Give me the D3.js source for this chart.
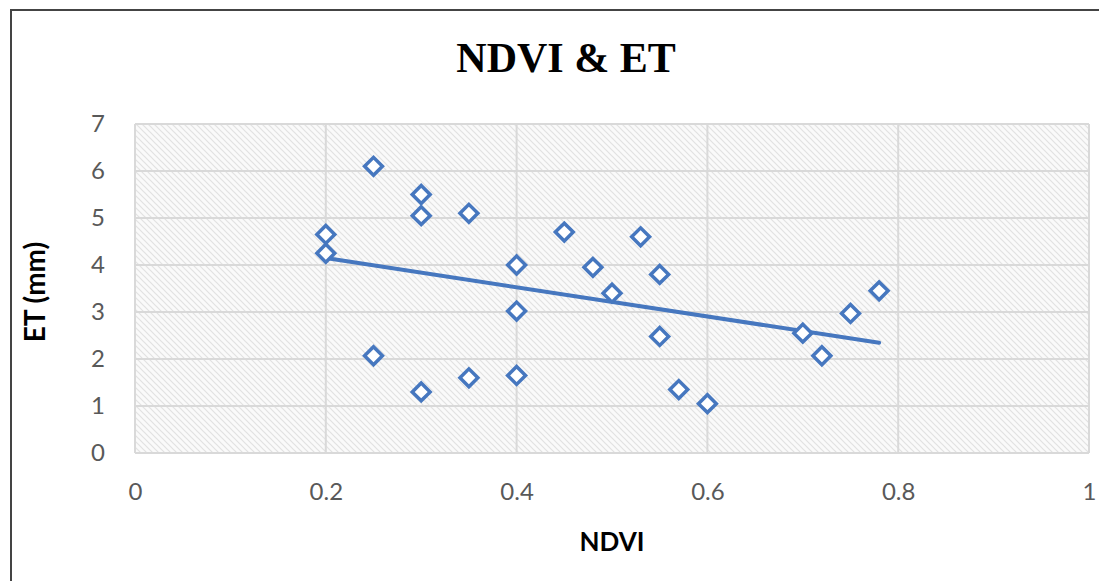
<!DOCTYPE html>
<html>
<head>
<meta charset="utf-8">
<script src="https://cdn.jsdelivr.net/npm/d3@7"></script>
<style>
  html, body { margin: 0; padding: 0; background: #fff; }
  svg { display: block; }
</style>
</head>
<body>
<svg id="chart" width="1099" height="581"></svg>
<script>
// NDVI vs. evapotranspiration samples
const ndvi = [0.20, 0.20, 0.25, 0.25, 0.30, 0.30, 0.30, 0.35, 0.35, 0.40, 0.40, 0.40,
              0.45, 0.48, 0.50, 0.53, 0.55, 0.55, 0.57, 0.60, 0.70, 0.72, 0.75, 0.78];
const et   = [4.65, 4.25, 6.10, 2.07, 5.50, 5.05, 1.30, 5.10, 1.60, 4.00, 3.02, 1.65,
              4.70, 3.95, 3.40, 4.60, 3.80, 2.48, 1.35, 1.05, 2.55, 2.07, 2.97, 3.45];
const xTicks = [0, 0.2, 0.4, 0.6, 0.8, 1];
const yTicks = [0, 1, 2, 3, 4, 5, 6, 7];
const titleText = "NDVI & ET";
const xTitle = "NDVI";
const yTitle = "ET (mm)";

const svg = d3.select("#chart");
const blue = "#4677BF";
const gridColor = "#d9d9d9";
const tickFont = "Lato, 'Liberation Sans', sans-serif";

// outer chart frame
svg.append("rect")
  .attr("x", 11).attr("y", 10).attr("width", 1200).attr("height", 700)
  .attr("fill", "#fff").attr("stroke", "#444").attr("stroke-width", 2);

// hatch fill for the plot area
const defs = svg.append("defs");
const pat = defs.append("pattern")
  .attr("id", "hatch").attr("patternUnits", "userSpaceOnUse")
  .attr("width", 6).attr("height", 6);
pat.append("rect").attr("width", 6).attr("height", 6).attr("fill", "#fafafa");
pat.append("path").attr("d", "M-1,-1 L7,7 M-1,5 L1,7 M5,-1 L7,1")
  .attr("stroke", "#e2e2e2").attr("stroke-width", 1.2);

const x = d3.scaleLinear().domain([0, 1]).range([135, 1089]);
const y = d3.scaleLinear().domain([0, 7]).range([453, 124]);

svg.append("rect")
  .attr("x", x(0)).attr("y", y(7))
  .attr("width", x(1) - x(0)).attr("height", y(0) - y(7))
  .attr("fill", "url(#hatch)");

// gridlines
svg.append("g").selectAll("line").data(yTicks).join("line")
  .attr("x1", x(0)).attr("x2", x(1))
  .attr("y1", d => y(d)).attr("y2", d => y(d))
  .attr("stroke", gridColor).attr("stroke-width", 2);
svg.append("g").selectAll("line").data(xTicks).join("line")
  .attr("x1", d => x(d)).attr("x2", d => x(d))
  .attr("y1", y(0)).attr("y2", y(7))
  .attr("stroke", gridColor).attr("stroke-width", 2);

// axes (labels only)
const xAxis = svg.append("g").attr("transform", `translate(0,${y(0)})`)
  .call(d3.axisBottom(x).tickValues(xTicks).tickSize(0).tickPadding(30)
    .tickFormat(d => d === 0 || d === 1 ? String(d) : d3.format(".1f")(d)));
const yAxis = svg.append("g").attr("transform", `translate(${x(0)},0)`)
  .call(d3.axisLeft(y).tickValues(yTicks).tickSize(0).tickPadding(30).tickFormat(d3.format("d")));
[xAxis, yAxis].forEach(g => {
  g.select(".domain").remove();
  g.selectAll("text").attr("fill", "#595959")
    .style("font-family", tickFont).style("font-size", "24px");
});
xAxis.selectAll("text").attr("dy", "0.71em");

// least-squares trendline
const n = ndvi.length;
const mx = d3.mean(ndvi), my = d3.mean(et);
const sxy = d3.sum(ndvi, (v, i) => (v - mx) * (et[i] - my));
const sxx = d3.sum(ndvi, v => (v - mx) * (v - mx));
const slope = sxy / sxx, icpt = my - slope * mx;
const xr = d3.extent(ndvi);
svg.append("line")
  .attr("x1", x(xr[0])).attr("y1", y(icpt + slope * xr[0]))
  .attr("x2", x(xr[1])).attr("y2", y(icpt + slope * xr[1]))
  .attr("stroke", blue).attr("stroke-width", 4).attr("stroke-linecap", "round");

// diamond markers
const sym = d3.symbol().type(d3.symbolSquare).size(160);
svg.append("g").selectAll("path").data(d3.range(n)).join("path")
  .attr("d", sym)
  .attr("transform", i => `translate(${x(ndvi[i])},${y(et[i])}) rotate(45)`)
  .attr("fill", "#fff").attr("stroke", blue).attr("stroke-width", 3.5);

// titles
svg.append("text").attr("x", 566).attr("y", 72).attr("text-anchor", "middle")
  .style("font-family", "'Liberation Serif', serif").style("font-weight", "bold")
  .style("font-size", "42px").attr("fill", "#000").text(titleText);
svg.append("text").attr("x", 612).attr("y", 551).attr("text-anchor", "middle")
  .style("font-family", tickFont).style("font-weight", "bold")
  .style("font-size", "26px").attr("fill", "#000").text(xTitle);
svg.append("text").attr("transform", "translate(45,292) rotate(-90)").attr("text-anchor", "middle")
  .style("font-family", tickFont).style("font-weight", "bold")
  .style("font-size", "28px").attr("fill", "#000").text(yTitle);
</script>
</body>
</html>
